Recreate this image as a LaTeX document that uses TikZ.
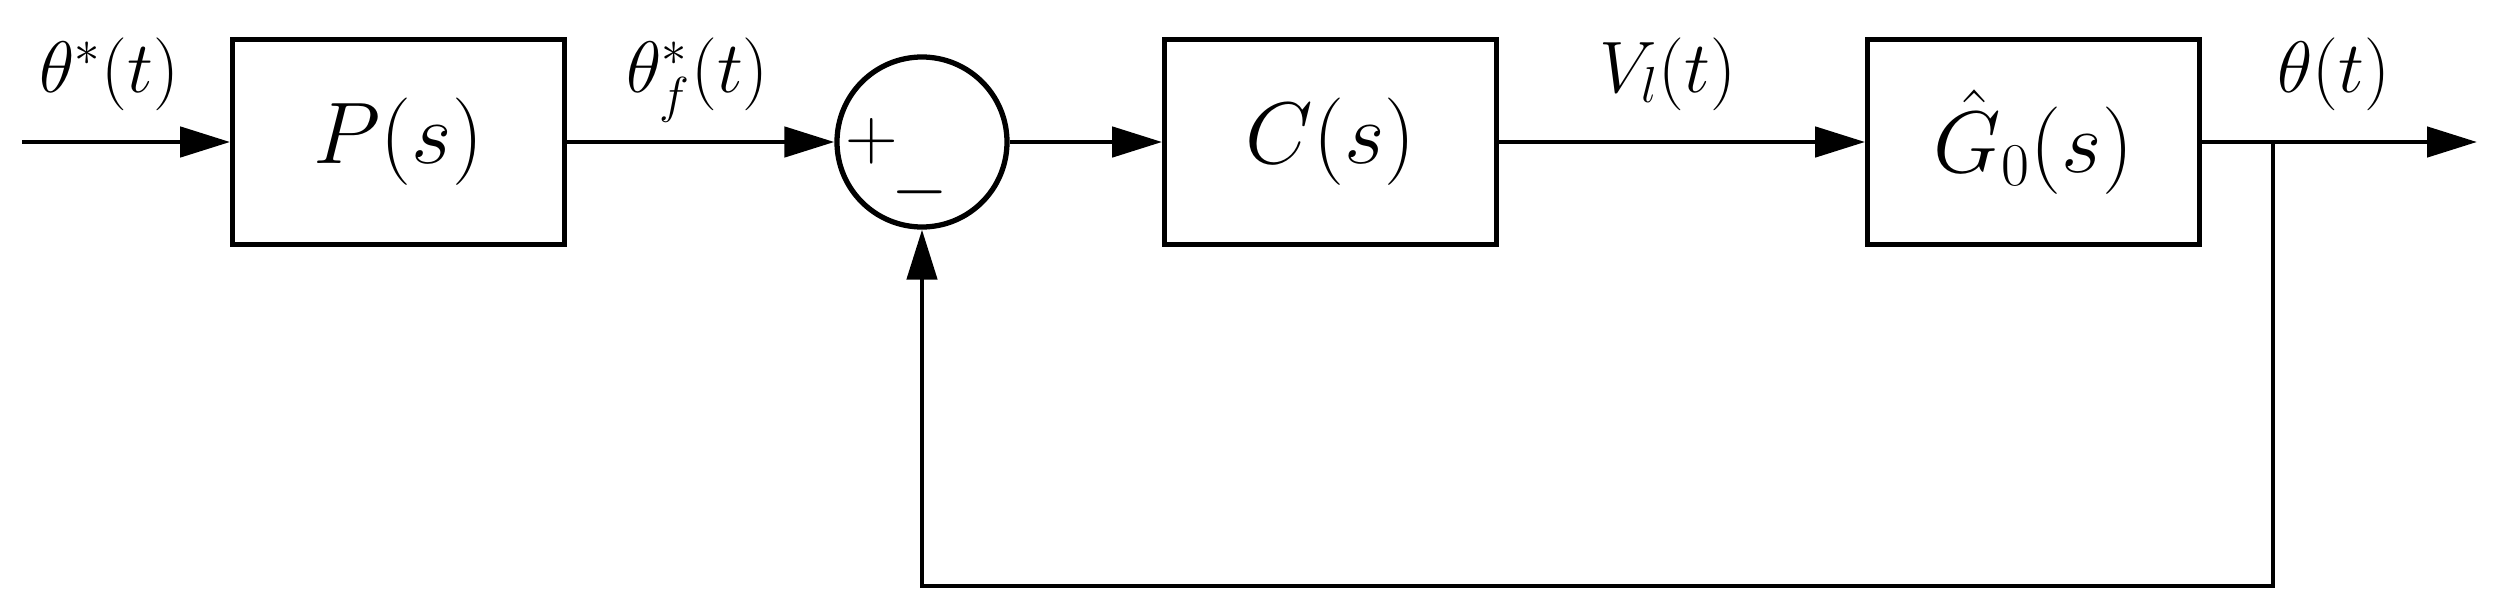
\documentclass[tikz,border=0pt]{standalone}
\usepackage{amsmath}
\usepackage{tikz}
\usetikzlibrary{arrows.meta,positioning}

\begin{document}
\begin{tikzpicture}[
    block/.style={draw, line width=1.35pt, minimum width=3.32cm, minimum height=2.05cm, inner sep=0pt, font=\fontsize{27}{30}\selectfont},
    sumnode/.style={draw, circle, line width=1.5pt, minimum size=1.70cm, inner sep=0pt},
    sign/.style={font=\fontsize{20}{24}\selectfont, inner sep=0pt},
    signal/.style={font=\fontsize{22}{26}\selectfont, anchor=base},
    link/.style={line width=1.35pt, -{Triangle[length=5mm, width=3mm]}}
]
    \useasboundingbox (0,0) rectangle (24.99,6.14);

    % Blocks
    \node[block] (P) at (3.985,4.72) {$P(s)$};
    \node[sumnode] (sum) at (9.22,4.72) {};
    \node[block] (C) at (13.305,4.72) {$C(s)$};
    \node[block] (G) at (20.335,4.72) {$\hat{G}_0(s)$};

    % Signs of the summing junction
    \node[sign] (plus) at (8.72,4.73) {$+$};
    \node[sign] (minus) at (9.195,4.22) {$-$};

    % Free ends and corners
    \coordinate (in) at (0.22,4.72);
    \coordinate (out) at (24.77,4.72);
    \coordinate (tap) at (22.73,4.72);
    \coordinate (tapdown) at (22.73,0.28);
    \coordinate (sumdown) at (9.22,0.28);

    % Signal labels
    \node[signal] (lin) at (1.09,5.22) {$\theta^*(t)$};
    \node[signal] (lfilt) at (6.975,5.22) {$\theta_f^*(t)$};
    \node[signal] (lvolt) at (16.68,5.22) {$V_l(t)$};
    \node[signal] (lout) at (23.34,5.22) {$\theta(t)$};

    % Connectors
    \draw[link] (in) -- (P);
    \draw[link] (P) -- (sum);
    \draw[link] (sum) -- (C);
    \draw[link] (C) -- (G);
    \draw[link] (G) -- (out);
    \draw[link] (tap) -- (tapdown) -- (sumdown) -- (sum);
\end{tikzpicture}
\end{document}
